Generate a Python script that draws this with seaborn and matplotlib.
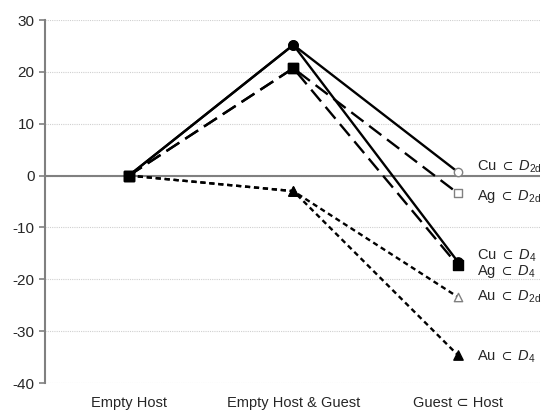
import matplotlib
matplotlib.use("Agg")
import matplotlib.pyplot as plt
import seaborn as sns
import pandas as pd
import numpy as np

stages = ["Empty Host", "Empty Host & Guest", "Guest ⊂ Host"]
series = ["Cu ⊂ D2d", "Cu ⊂ D4", "Ag ⊂ D2d", "Ag ⊂ D4", "Au ⊂ D2d", "Au ⊂ D4"]
cu_d2d = [0, 25.2, 0.7]
cu_d4 = [0, 25.2, -16.6]
ag_d2d = [0, 20.7, -3.4]
ag_d4 = [0, 20.7, -17.3]
au_d2d = [0, -3.0, -23.4]
au_d4 = [0, -3.0, -34.6]
# end labels, top to bottom
label_txt = [r"Cu $\subset$ $D_{\mathrm{2d}}$", r"Ag $\subset$ $D_{\mathrm{2d}}$",
             r"Cu $\subset$ $D_{4}$", r"Ag $\subset$ $D_{4}$",
             r"Au $\subset$ $D_{\mathrm{2d}}$", r"Au $\subset$ $D_{4}$"]
label_y = [1.6, -4.0, -15.4, -18.5, -23.3, -34.9]

values = [cu_d2d, cu_d4, ag_d2d, ag_d4, au_d2d, au_d4]
df = pd.DataFrame([
    {"series": s, "x": i, "energy": v[i]}
    for s, v in zip(series, values) for i in range(3)
])

sns.set_style("white")
plt.rcParams["font.family"] = ["Liberation Sans", "DejaVu Sans"]
plt.rcParams["mathtext.fontset"] = "custom"
plt.rcParams["mathtext.it"] = "Liberation Sans:italic"
plt.rcParams["mathtext.rm"] = "Liberation Sans"
plt.rcParams["mathtext.fallback"] = "stixsans"
plt.rcParams["axes.unicode_minus"] = False

fig = plt.figure(figsize=(5.43, 4.11), dpi=100)
ax = fig.add_axes([45 / 543, 1 - 383 / 411, 495 / 543, 363 / 411])

dash = {"Cu": "", "Ag": (6.5, 3), "Au": (2.2, 1.6)}
style_map = {s: dash[s[:2]] for s in series}
sns.lineplot(data=df, x="x", y="energy", units="series", estimator=None,
             style="series", dashes=style_map, color="black", lw=1.7,
             legend=False, ax=ax, zorder=3)

# markers: start and middle filled, ends filled (D4) or open (D2d)
mk = {"Cu": "o", "Ag": "s", "Au": "^"}
for s, v in zip(series, values):
    m = mk[s[:2]]
    ax.scatter([0, 1], v[:2], marker=m, s=45, color="black", zorder=5)
    if s.endswith("D4"):
        ax.scatter([2], [v[2]], marker=m, s=45, color="black", zorder=5)
    else:
        ax.scatter([2], [v[2]], marker=m, s=36, facecolor="white",
                   edgecolor="#808080", linewidth=1.0, zorder=5)
ax.scatter([0], [0], marker="s", s=50, color="black", zorder=6)

for t, y in zip(label_txt, label_y):
    ax.text(2.115, y, t, fontsize=10.5, va="center", ha="left")

ax.set_xlim(-0.51, 2.5)
ax.set_ylim(-40, 30)
ax.set_yticks(np.arange(-40, 31, 10))
ax.set_xticks(range(3), labels=stages)
ax.tick_params(axis="x", length=0, labelsize=10.5, pad=9)
ax.tick_params(axis="y", length=4, color="#808080", width=1.2, labelsize=11,
               direction="out", left=True)
ax.grid(axis="y", color="#d0d0d0", ls=(0, (1, 1)), lw=0.8)
ax.axhline(0, color="#808080", lw=1.5, zorder=2)
for sp in ["top", "right", "bottom"]:
    ax.spines[sp].set_visible(False)
ax.spines["left"].set_color("#808080")
ax.spines["left"].set_linewidth(1.5)
ax.set_xlabel("")
ax.set_ylabel("")

fig.savefig("out.png", dpi=100)
